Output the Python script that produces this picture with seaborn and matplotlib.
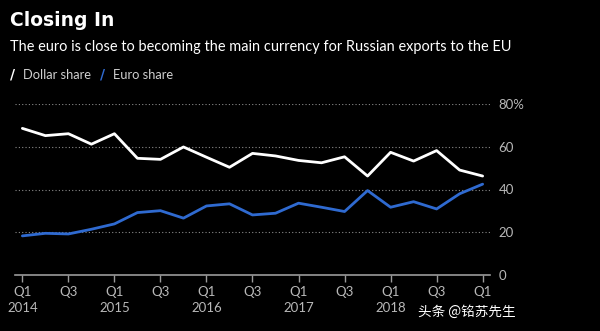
import matplotlib
matplotlib.use("Agg")
import matplotlib.pyplot as plt
import seaborn as sns
import pandas as pd

quarters = ["Q1 2014", "Q2 2014", "Q3 2014", "Q4 2014",
            "Q1 2015", "Q2 2015", "Q3 2015", "Q4 2015",
            "Q1 2016", "Q2 2016", "Q3 2016", "Q4 2016",
            "Q1 2017", "Q2 2017", "Q3 2017", "Q4 2017",
            "Q1 2018", "Q2 2018", "Q3 2018", "Q4 2018",
            "Q1 2019"]
dollar_share = [68.6, 65.2, 66.1, 61.2, 66.1, 54.6, 54.1, 59.9, 55.1, 50.4,
                56.9, 55.7, 53.6, 52.5, 55.3, 46.3, 57.4, 53.3, 58.2, 49.1, 46.3]
euro_share = [18.3, 19.5, 19.2, 21.4, 23.9, 29.2, 30.1, 26.6, 32.3, 33.3,
              28.1, 28.9, 33.6, 31.7, 29.7, 39.5, 31.7, 34.3, 30.9, 38.0, 42.5]
tick_labels = ["Q1\n2014", "Q3", "Q1\n2015", "Q3", "Q1\n2016", "Q3",
               "Q1\n2017", "Q3", "Q1\n2018", "Q3", "Q1"]
y_ticks = [0, 20, 40, 60, 80]
y_tick_labels = ["0", "20", "40", "60", "80%"]

df = pd.DataFrame({
    "idx": list(range(len(quarters))) * 2,
    "quarter": quarters * 2,
    "share": dollar_share + euro_share,
    "series": ["Dollar share"] * len(quarters) + ["Euro share"] * len(quarters),
})

sns.set_theme(style="dark")
plt.rcParams["font.family"] = ["Lato", "DejaVu Sans"]

fig = plt.figure(figsize=(6.0, 3.31), dpi=100, facecolor="black")
ax = fig.add_axes([15 / 600, 1 - 275 / 331, 475 / 600, (275 - 104) / 331])
ax.set_facecolor("black")

sns.lineplot(data=df, x="idx", y="share", hue="series",
             palette={"Dollar share": "white", "Euro share": "#2f6ad0"},
             linewidth=2.0, ax=ax, legend=False)

ax.set_xlim(-0.32, 20.32)
ax.set_ylim(0, 80)
ax.set_xticks(list(range(0, len(quarters), 2)))
ax.set_xticklabels(tick_labels, color="#b8b8b8", fontsize=9.5, linespacing=1.35)
ax.set_yticks(y_ticks)
ax.set_yticklabels(y_tick_labels, color="#b8b8b8", fontsize=9.5)
ax.yaxis.tick_right()
ax.tick_params(axis="y", length=0, pad=6)
ax.tick_params(axis="x", length=5, width=1, color="#9a9a9a", pad=3, direction="out", bottom=True)
ax.set_xlabel("")
ax.set_ylabel("")
for s in ["top", "left", "right"]:
    ax.spines[s].set_visible(False)
ax.spines["bottom"].set_color("#9a9a9a")
ax.spines["bottom"].set_linewidth(1.2)
ax.grid(False)
for yv in y_ticks[1:]:
    ax.axhline(yv, color="#8a8a8a", linestyle=(0, (1, 2)), linewidth=0.8, zorder=0)

fig.text(10 / 600, 1 - 21 / 331, "Closing In", color="white", fontsize=13.5,
         fontweight="bold", va="center", ha="left", family=["DejaVu Sans"])
fig.text(10 / 600, 1 - 47 / 331,
         "The euro is close to becoming the main currency for Russian exports to the EU",
         color="white", fontsize=10.45, va="center", ha="left")
fig.text(10 / 600, 1 - 75 / 331, "/", color="white", fontsize=10, fontweight="bold",
         va="center", ha="left", family=["DejaVu Sans"])
fig.text(23 / 600, 1 - 75 / 331, "Dollar share", color="#d0d0d0", fontsize=9.3,
         va="center", ha="left")
fig.text(100 / 600, 1 - 75 / 331, "/", color="#2f6ad0", fontsize=10, fontweight="bold",
         va="center", ha="left", family=["DejaVu Sans"])
fig.text(113 / 600, 1 - 75 / 331, "Euro share", color="#d0d0d0", fontsize=9.3,
         va="center", ha="left")
fig.text(418 / 600, 1 - 312 / 331, "头条 @铭苏先生", color="white", fontsize=9.8,
         family=["Noto Sans CJK SC", "DejaVu Sans"], va="center", ha="left")

fig.savefig("out.png", dpi=100, facecolor="black")
